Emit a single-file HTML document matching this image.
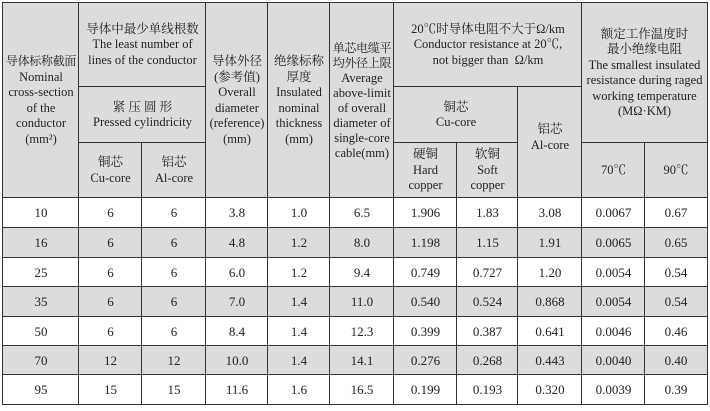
<!DOCTYPE html>
<html><head><meta charset="utf-8"><style>
html,body{margin:0;padding:0;background:#fff;width:710px;height:411px;overflow:hidden}
.c{position:absolute;box-sizing:border-box;border:1.5px solid #333;display:flex;align-items:center;justify-content:center;text-align:center;font-family:"Liberation Serif","Noto Serif CJK SC",serif;font-size:13px;line-height:15.5px;color:#222;background:#dcdcdc;margin:-0.75px 0 0 -0.75px;white-space:nowrap}
.w{background:#fff}
.hd{font-size:12.5px}
.hd span{font-size:12px;letter-spacing:-0.3px}
</style></head><body>
<div class="c hd" style="left:3px;top:3px;width:77.5px;height:196.5px"><div><span>导体标称截面</span><br>Nominal<br>cross-section<br>of the<br>conductor<br>(mm²)</div></div>
<div class="c hd" style="left:79px;top:3px;width:128.5px;height:85.5px"><div>导体中最少单线根数<br>The least number of<br>lines of the conductor</div></div>
<div class="c hd" style="left:79px;top:87px;width:128.5px;height:57.5px"><div>紧 压 圆 形<br>Pressed cylindricity</div></div>
<div class="c hd" style="left:79px;top:143px;width:64.5px;height:56.5px"><div>铜芯<br>Cu-core</div></div>
<div class="c hd" style="left:142px;top:143px;width:65.5px;height:56.5px"><div>铝芯<br>Al-core</div></div>
<div class="c hd" style="left:206px;top:3px;width:63.5px;height:196.5px"><div>导体外径<br>(参考值)<br>Overall<br>diameter<br>(reference)<br>(mm)</div></div>
<div class="c hd" style="left:268px;top:3px;width:63.5px;height:196.5px"><div>绝缘标称<br>厚度<br>Insulated<br>nominal<br>thickness<br>(mm)</div></div>
<div class="c hd" style="left:330px;top:3px;width:65.5px;height:196.5px;line-height:15px"><div><span>单芯电缆平</span><br><span>均外径上限</span><br>Average<br>above-limit<br>of overall<br>diameter of<br>single-core<br>cable(mm)</div></div>
<div class="c hd" style="left:394px;top:3px;width:189.5px;height:85.5px"><div>20℃时导体电阻不大于Ω/km<br>Conductor resistance at 20℃,<br>not bigger than &nbsp;Ω/km</div></div>
<div class="c hd" style="left:394px;top:87px;width:125.5px;height:57.5px"><div>铜芯<br>Cu-core</div></div>
<div class="c hd" style="left:394px;top:143px;width:64.5px;height:56.5px"><div>硬铜<br>Hard<br>copper</div></div>
<div class="c hd" style="left:457px;top:143px;width:62.5px;height:56.5px"><div>软铜<br>Soft<br>copper</div></div>
<div class="c hd" style="left:518px;top:87px;width:65.5px;height:112.5px;padding-bottom:10px"><div>铝芯<br>Al-core</div></div>
<div class="c hd" style="left:582px;top:3px;width:126.5px;height:141.5px"><div>额定工作温度时<br>最小绝缘电阻<br>The smallest insulated<br>resistance during raged<br>working temperature<br>(MΩ·KM)</div></div>
<div class="c hd" style="left:582px;top:143px;width:64.5px;height:56.5px">70℃</div>
<div class="c hd" style="left:645px;top:143px;width:63.5px;height:56.5px">90℃</div>
<div id="body"></div>
<script>
var xs=[3,79,142,206,268,330,394,457,518,582,645,707];
var ys=[198,228,258,287,317,346,375,404];
var d=[["10","6","6","3.8","1.0","6.5","1.906","1.83","3.08","0.0067","0.67"],
["16","6","6","4.8","1.2","8.0","1.198","1.15","1.91","0.0065","0.65"],
["25","6","6","6.0","1.2","9.4","0.749","0.727","1.20","0.0054","0.54"],
["35","6","6","7.0","1.4","11.0","0.540","0.524","0.868","0.0054","0.54"],
["50","6","6","8.4","1.4","12.3","0.399","0.387","0.641","0.0046","0.46"],
["70","12","12","10.0","1.4","14.1","0.276","0.268","0.443","0.0040","0.40"],
["95","15","15","11.6","1.6","16.5","0.199","0.193","0.320","0.0039","0.39"]];
var h="";
for(var r=0;r<7;r++)for(var c=0;c<11;c++){
h+='<div class="c'+(r%2==0?' w':'')+'" style="left:'+xs[c]+'px;top:'+ys[r]+'px;width:'+(xs[c+1]-xs[c]+1.5)+'px;height:'+(ys[r+1]-ys[r]+1.5)+'px">'+d[r][c]+'</div>';}
document.getElementById("body").innerHTML=h;
</script>
</body></html>
